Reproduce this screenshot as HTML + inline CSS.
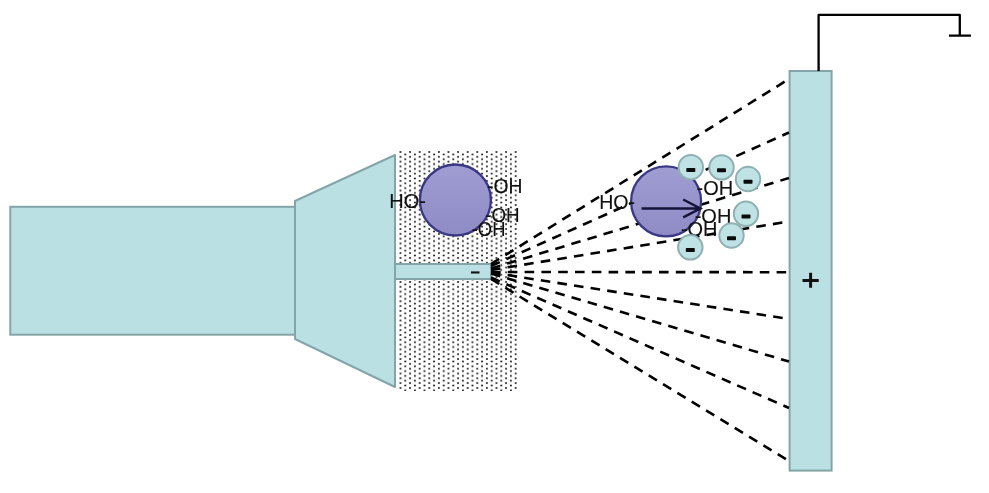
<!DOCTYPE html>
<html><head><meta charset="utf-8"><style>
html,body{margin:0;padding:0;background:#fff;width:989px;height:493px;overflow:hidden;font-family:"Liberation Sans",sans-serif}
svg{display:block;will-change:transform}
</style></head><body>
<svg width="989" height="493" viewBox="0 0 989 493">
<defs>
<pattern id="dots" x="400.5" y="152" width="9.6" height="4.815" patternUnits="userSpaceOnUse">
<circle cx="0" cy="0" r="0.92" fill="#000"/><circle cx="9.6" cy="0" r="0.92" fill="#000"/>
<circle cx="0" cy="4.815" r="0.92" fill="#000"/><circle cx="9.6" cy="4.815" r="0.92" fill="#000"/>
<circle cx="4.8" cy="2.4075" r="0.92" fill="#000"/>
</pattern>
<linearGradient id="pg" x1="0" y1="0" x2="0" y2="1">
<stop offset="0" stop-color="#a09dd3"/><stop offset="1" stop-color="#8e8bc5"/>
</linearGradient>
</defs>
<rect x="398.5" y="151" width="119.5" height="240" fill="url(#dots)"/>
<rect x="10.3" y="206.8" width="284.7" height="127.9" fill="#bbe0e4" stroke="#84a5a8" stroke-width="2"/>
<polygon points="295,201 395,155 395,387 295,339" fill="#bbe0e4" stroke="#84a5a8" stroke-width="2" stroke-linejoin="round"/>
<rect x="395" y="264" width="96" height="15" fill="#bbe0e4" stroke="#84a5a8" stroke-width="2"/>
<rect x="471" y="271.4" width="8.5" height="2.1" fill="#111"/>
<rect x="789.6" y="71" width="42" height="399.6" fill="#bbe0e4" stroke="#84a5a8" stroke-width="2"/>
<path d="M802.5 280.4H818.7M810.6 272.8V287.7" stroke="#111" stroke-width="3"/>
<path d="M818.6 71V14.9H959.8V35.6M949 35.6H970.9" fill="none" stroke="#000" stroke-width="2.3" stroke-linejoin="round"/>
<line x1="491" y1="264" x2="789" y2="79" stroke="#000" stroke-width="2.6" stroke-dasharray="9.6 7.2"/>
<line x1="491" y1="266" x2="789" y2="132.5" stroke="#000" stroke-width="2.6" stroke-dasharray="9.6 7.2"/>
<line x1="491" y1="268.5" x2="789" y2="178" stroke="#000" stroke-width="2.6" stroke-dasharray="9.6 7.2"/>
<line x1="491" y1="270" x2="789" y2="221.5" stroke="#000" stroke-width="2.6" stroke-dasharray="9.6 7.2"/>
<line x1="491" y1="272" x2="789" y2="272.2" stroke="#000" stroke-width="2.6" stroke-dasharray="9.6 7.2"/>
<line x1="491" y1="272.5" x2="789" y2="319" stroke="#000" stroke-width="2.6" stroke-dasharray="9.6 7.2"/>
<line x1="491" y1="273.5" x2="789" y2="361.5" stroke="#000" stroke-width="2.6" stroke-dasharray="9.6 7.2"/>
<line x1="491" y1="277.5" x2="789" y2="408" stroke="#000" stroke-width="2.6" stroke-dasharray="9.6 7.2"/>
<line x1="491" y1="279" x2="789" y2="461" stroke="#000" stroke-width="2.6" stroke-dasharray="9.6 7.2"/>
<circle cx="455.4" cy="200" r="35.5" fill="url(#pg)" stroke="#3a3884" stroke-width="2.3"/>
<circle cx="666.1" cy="201.4" r="35" fill="url(#pg)" stroke="#3a3884" stroke-width="2.3"/>
<path d="M641.6 208.5H700.3M683.2 199.5L700.3 208.5L683.2 217.3" fill="none" stroke="#15153a" stroke-width="2.5"/>
<text transform="translate(389.3 207.8) scale(1.0 1)" x="0" y="0" font-family="Liberation Sans, sans-serif" font-size="20" fill="#111" stroke="#111" stroke-width="0.1">HO-</text>
<text transform="translate(487.05 193.4) scale(0.967 1)" x="0" y="0" font-family="Liberation Sans, sans-serif" font-size="20" fill="#111" stroke="#111" stroke-width="0.1">-OH</text>
<text transform="translate(485.25 222.0) scale(0.94 1)" x="0" y="0" font-family="Liberation Sans, sans-serif" font-size="20" fill="#111" stroke="#111" stroke-width="0.1">-OH</text>
<text transform="translate(471.7 235.5) scale(0.92 1)" x="0" y="0" font-family="Liberation Sans, sans-serif" font-size="20" fill="#111" stroke="#111" stroke-width="0.1">-OH</text>
<text transform="translate(599.2 208.8) scale(0.98 1)" x="0" y="0" font-family="Liberation Sans, sans-serif" font-size="20" fill="#111" stroke="#111" stroke-width="0.1">HO-</text>
<text transform="translate(696.5 194.6) scale(1.0 1)" x="0" y="0" font-family="Liberation Sans, sans-serif" font-size="20" fill="#111" stroke="#111" stroke-width="0.1">-OH</text>
<text transform="translate(694.7 223.2) scale(1.0 1)" x="0" y="0" font-family="Liberation Sans, sans-serif" font-size="20" fill="#111" stroke="#111" stroke-width="0.1">-OH</text>
<text transform="translate(680.9 235.6) scale(1.0 1)" x="0" y="0" font-family="Liberation Sans, sans-serif" font-size="20" fill="#111" stroke="#111" stroke-width="0.1">-OH</text>
<circle cx="690.8" cy="167.2" r="12.2" fill="#bfe2e5" stroke="#8fb0b2" stroke-width="2"/>
<rect x="686.3" y="168.0" width="9" height="4" rx="0.8" fill="#0a0a0a"/>
<circle cx="721.5" cy="167.4" r="12.2" fill="#bfe2e5" stroke="#8fb0b2" stroke-width="2"/>
<rect x="717.0" y="168.20000000000002" width="9" height="4" rx="0.8" fill="#0a0a0a"/>
<circle cx="748" cy="179" r="12.2" fill="#bfe2e5" stroke="#8fb0b2" stroke-width="2"/>
<rect x="743.5" y="179.8" width="9" height="4" rx="0.8" fill="#0a0a0a"/>
<circle cx="746" cy="213.8" r="12.2" fill="#bfe2e5" stroke="#8fb0b2" stroke-width="2"/>
<rect x="741.5" y="214.60000000000002" width="9" height="4" rx="0.8" fill="#0a0a0a"/>
<circle cx="731.5" cy="235.5" r="12.2" fill="#bfe2e5" stroke="#8fb0b2" stroke-width="2"/>
<rect x="727.0" y="236.3" width="9" height="4" rx="0.8" fill="#0a0a0a"/>
<circle cx="690.3" cy="247.3" r="12.2" fill="#bfe2e5" stroke="#8fb0b2" stroke-width="2"/>
<rect x="685.8" y="248.10000000000002" width="9" height="4" rx="0.8" fill="#0a0a0a"/>
</svg>
</body></html>
